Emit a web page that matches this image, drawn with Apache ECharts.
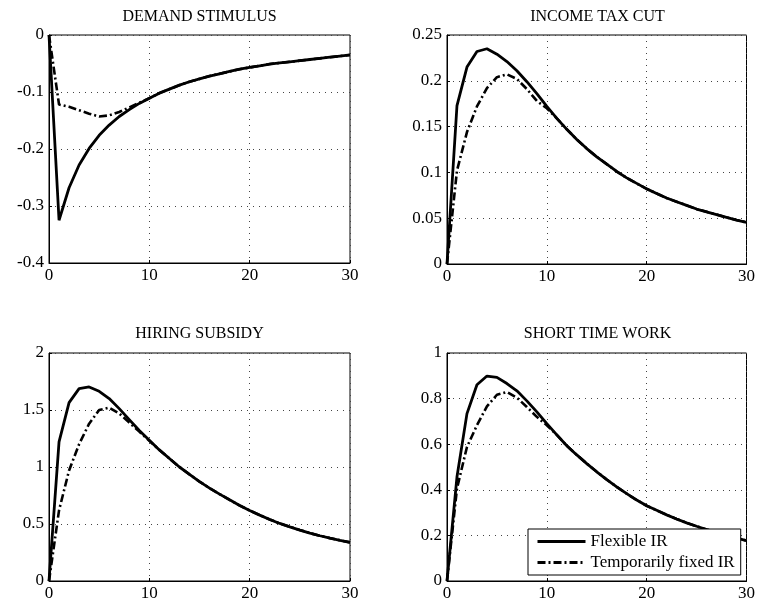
<!DOCTYPE html>
<html>
<head>
<meta charset="utf-8">
<script src="https://cdn.jsdelivr.net/npm/echarts@6/dist/echarts.min.js"></script>
<style>html,body{margin:0;padding:0;background:#fff;}#c{width:758px;height:606px;}</style>
</head>
<body>
<div id="c"></div>
<script>
const periods = [0,1,2,3,4,5,6,7,8,9,10,11,12,13,14,15,16,17,18,19,20,21,22,23,24,25,26,27,28,29,30];
const panelTitles = ['DEMAND STIMULUS', 'INCOME TAX CUT', 'HIRING SUBSIDY', 'SHORT TIME WORK'];
const seriesNames = ['Flexible IR', 'Temporarily fixed IR'];

const demandFlex = [0,-0.325,-0.268,-0.228,-0.199,-0.176,-0.158,-0.143,-0.131,-0.120,-0.111,-0.102,-0.095,-0.088,-0.082,-0.077,-0.072,-0.068,-0.064,-0.060,-0.057,-0.054,-0.051,-0.049,-0.047,-0.045,-0.043,-0.041,-0.039,-0.037,-0.035];
const demandFixed = [0,-0.122,-0.126,-0.132,-0.138,-0.143,-0.141,-0.135,-0.127,-0.119,-0.111,-0.102,-0.095,-0.088,-0.082,-0.077,-0.072,-0.068,-0.064,-0.060,-0.057,-0.054,-0.051,-0.049,-0.047,-0.045,-0.043,-0.041,-0.039,-0.037,-0.035];

const taxFlex = [0,0.173,0.215,0.232,0.235,0.229,0.221,0.211,0.199,0.186,0.172,0.159,0.147,0.136,0.126,0.117,0.109,0.101,0.094,0.088,0.082,0.077,0.072,0.068,0.064,0.060,0.057,0.054,0.051,0.048,0.0455];
const taxFixed = [0,0.102,0.144,0.172,0.192,0.204,0.207,0.202,0.191,0.178,0.170,0.159,0.147,0.136,0.126,0.117,0.109,0.101,0.094,0.088,0.082,0.077,0.072,0.068,0.064,0.060,0.057,0.054,0.051,0.048,0.0455];

const hireFlex = [0,1.22,1.565,1.688,1.702,1.664,1.60,1.512,1.416,1.32,1.235,1.15,1.075,1.0,0.935,0.872,0.815,0.762,0.712,0.663,0.618,0.578,0.54,0.505,0.475,0.447,0.42,0.397,0.376,0.357,0.339];
const hireFixed = [0,0.62,0.97,1.2,1.38,1.5,1.52,1.47,1.39,1.31,1.23,1.15,1.075,1.0,0.935,0.872,0.815,0.762,0.712,0.663,0.618,0.578,0.54,0.505,0.475,0.447,0.42,0.397,0.376,0.357,0.339];

const stwFlex = [0,0.457,0.734,0.861,0.899,0.893,0.866,0.834,0.79,0.742,0.69,0.641,0.593,0.553,0.515,0.479,0.445,0.413,0.383,0.355,0.33,0.31,0.29,0.272,0.255,0.24,0.226,0.213,0.2,0.188,0.177];
const stwFixed = [0,0.406,0.588,0.683,0.766,0.817,0.829,0.804,0.763,0.72,0.683,0.641,0.593,0.553,0.515,0.479,0.445,0.413,0.383,0.355,0.33,0.31,0.29,0.272,0.255,0.24,0.226,0.213,0.2,0.188,0.177];

const yMins = [-0.4, 0, 0, 0];
const yMaxs = [0, 0.25, 2, 1];
const yIntervals = [0.1, 0.05, 0.5, 0.2];
const xTicks = [0, 10, 20, 30];

const panels = [[demandFlex, demandFixed],[taxFlex, taxFixed],[hireFlex, hireFixed],[stwFlex, stwFixed]];

const FONT = '"Liberation Serif", "Times New Roman", serif';
const gridBoxes = [
  {left: 49, top: 35, width: 301, height: 228},
  {left: 447, top: 35, width: 301, height: 229},
  {left: 49, top: 353, width: 301, height: 228},
  {left: 447, top: 353, width: 301, height: 228}
];
const titleCenters = [[199.5, 9], [597.5, 9], [199.5, 326], [597.5, 326]];

const grids = gridBoxes.map(b => Object.assign({show: true, borderColor: '#000', borderWidth: 1, backgroundColor: '#fff', containLabel: false}, b));
const titles = panelTitles.map((t, i) => ({
  text: t, left: titleCenters[i][0], top: titleCenters[i][1], textAlign: 'center', padding: 0,
  textStyle: {fontFamily: FONT, fontSize: 16, fontWeight: 'normal', color: '#000'}
}));
const gridLine = {show: true, lineStyle: {color: '#444', width: 1, type: [1, 5]}};
const xAxes = gridBoxes.map((b, i) => ({
  type: 'value', gridIndex: i, min: xTicks[0], max: xTicks[xTicks.length - 1], interval: 10,
  axisLine: {show: true, onZero: false, lineStyle: {color: '#000', width: 1}},
  axisTick: {show: true, inside: true, length: 3, lineStyle: {color: '#000'}},
  axisLabel: {color: '#000', fontFamily: FONT, fontSize: 17, margin: 4},
  splitLine: gridLine
}));
const yAxes = gridBoxes.map((b, i) => ({
  type: 'value', gridIndex: i, min: yMins[i], max: yMaxs[i], interval: yIntervals[i],
  axisLine: {show: true, onZero: false, lineStyle: {color: '#000', width: 1}},
  axisTick: {show: true, inside: true, length: 3, lineStyle: {color: '#000'}},
  axisLabel: {color: '#000', fontFamily: FONT, fontSize: 17, margin: 5,
    formatter: v => String(Math.round(v * 1000) / 1000)},
  splitLine: gridLine
}));
const dashDot = [8, 3, 2, 3];
const series = [];
panels.forEach((p, i) => {
  series.push({
    name: seriesNames[0], type: 'line', xAxisIndex: i, yAxisIndex: i, symbol: 'none', silent: true,
    data: periods.map((t, k) => [t, p[0][k]]),
    lineStyle: {color: '#000', width: 2.8, type: 'solid'}, itemStyle: {color: '#000'}, z: 3
  });
  series.push({
    name: seriesNames[1], type: 'line', xAxisIndex: i, yAxisIndex: i, symbol: 'none', silent: true,
    data: periods.map((t, k) => [t, p[1][k]]),
    lineStyle: {color: '#000', width: 2.6, type: dashDot}, itemStyle: {color: '#000'}, z: 2
  });
});

const chart = echarts.init(document.getElementById('c'), null, {renderer: 'canvas'});
chart.setOption({
  animation: false,
  backgroundColor: '#fff',
  title: titles,
  grid: grids,
  xAxis: xAxes,
  yAxis: yAxes,
  legend: {
    data: seriesNames, left: 528, top: 529, orient: 'vertical',
    backgroundColor: '#fff', borderColor: '#000', borderWidth: 1,
    padding: [4, 6, 4, 8], itemWidth: 48, itemHeight: 16, itemGap: 4,
    itemStyle: {opacity: 0},
    lineStyle: {width: 3},
    textStyle: {fontFamily: FONT, fontSize: 17, color: '#000'},
    selectedMode: false, z: 10
  },
  series: series
});
</script>
</body>
</html>
